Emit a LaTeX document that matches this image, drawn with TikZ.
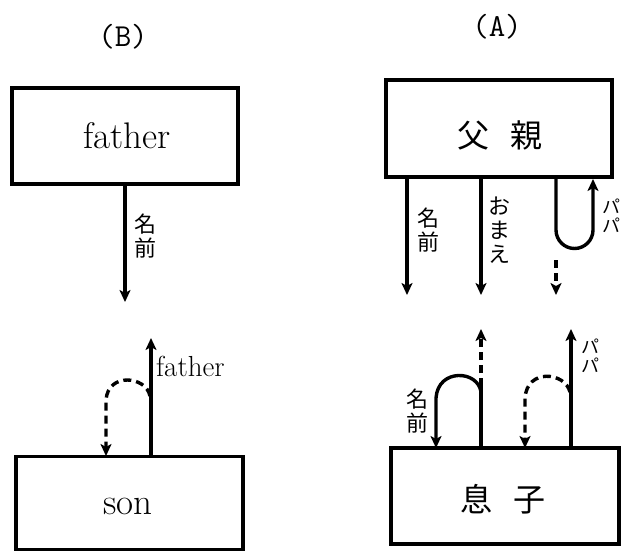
\documentclass[tikz,border=0pt]{standalone}
\usepackage{fontspec}
\newfontfamily\jp{Noto Sans CJK JP}
\usetikzlibrary{arrows.meta}
\tikzset{
  box/.style={draw, line width=3.2pt, minimum width=#1, minimum height=96pt, inner sep=0pt},
  lnk/.style={line width=3.4pt},
  arr/.style={lnk, -{Stealth[length=12pt,width=11pt,inset=3pt]}},
  dsh/.style={dash pattern=on 8pt off 5pt},
  jlab/.style={font=\jp\fontsize{22}{24}\selectfont, align=center, inner sep=0pt},
  plab/.style={font=\jp\fontsize{18}{19}\selectfont, align=center, inner sep=0pt},
  enlab/.style={font=\fontsize{37}{40}\selectfont, inner sep=0pt},
  panel/.style={font=\fontsize{32}{34}\selectfont\ttfamily, inner sep=0pt}
}
\begin{document}
\begin{tikzpicture}[x=1pt,y=1pt]
\useasboundingbox (0,0) rectangle (628,-552);
% ---------- (B) ----------
\node[panel] (labB) at (123,-37) {(B)};
\node[box=226pt] (fB) at (125,-136) {};
\node[enlab, anchor=base] (fBt) at (127,-148) {father};
\node[box=227pt, minimum height=93pt] (sB) at (129.5,-503) {};
\node[enlab, anchor=base] (sBt) at (128,-514) {son};
\coordinate (bA1) at (125,-184);
\coordinate (bA2) at (125,-302);
\draw[arr] (bA1) -- (bA2);
\node[jlab] (bn) at (145,-236) {名\\前};
\coordinate (bF1) at (151,-456);
\coordinate (bF2) at (151,-338);
\draw[arr] (bF1) -- (bF2);
\node[font=\fontsize{29}{30}\selectfont, anchor=base west, inner sep=0pt] (bfl) at (156,-376) {father};
\coordinate (bD1) at (150,-396);
\coordinate (bD2) at (106,-400);
\coordinate (bD3) at (106,-456);
\draw[arr, dsh] (bD1) .. controls (146,-376) and (108,-372) .. (bD2) -- (bD3);
% ---------- (A) ----------
\node[panel] (labA) at (497,-27) {(A)};
\node[box=226pt, minimum height=97pt] (fA) at (499,-128.5) {};
\node[font=\jp\fontsize{32}{34}\selectfont, inner sep=0pt] (fAt) at (500,-135) {父\hspace{22pt}親};
\node[box=228pt] (sA) at (505,-496) {};
\node[font=\jp\fontsize{32}{34}\selectfont, inner sep=0pt] (sAt) at (503,-499) {息\hspace{22pt}子};
% top arrows
\coordinate (a11) at (407,-177);
\coordinate (a12) at (407,-295);
\draw[arr] (a11) -- (a12);
\node[jlab] (an1) at (428,-230) {名\\前};
\coordinate (a21) at (481,-177);
\coordinate (a22) at (481,-295);
\draw[arr] (a21) -- (a22);
\node[jlab] (an2) at (499,-230) {お\\ま\\え};
\coordinate (a31) at (556,-177);
\coordinate (a32) at (556,-230);
\coordinate (a33) at (593,-179);
\draw[arr] (a31) -- (a32) arc[start angle=180, end angle=360, radius=18.5] -- (a33);
\coordinate (a34) at (556,-260);
\coordinate (a35) at (556,-295);
\draw[arr, dsh] (a34) -- (a35);
\node[plab] (ap1) at (611,-216) {パ\\パ};
% bottom arrows
\coordinate (b11) at (481,-448);
\coordinate (b12) at (481,-386);
\coordinate (b13) at (481,-329);
\draw[lnk] (b11) -- (b12);
\draw[arr, dsh] (b12) -- (b13);
\coordinate (b14) at (481,-392);
\coordinate (b15) at (436,-398);
\coordinate (b16) at (436,-448);
\draw[arr] (b14) .. controls (478,-370) and (438,-368) .. (b15) -- (b16);
\node[jlab] (bn2) at (417,-411) {名\\前};
\coordinate (b21) at (571,-448);
\coordinate (b22) at (571,-329);
\draw[arr] (b21) -- (b22);
\coordinate (b23) at (570,-392);
\coordinate (b24) at (525,-398);
\coordinate (b25) at (525,-448);
\draw[arr, dsh] (b23) .. controls (565,-372) and (527,-368) .. (b24) -- (b25);
\node[plab] (bp2) at (590,-356) {パ\\パ};
\end{tikzpicture}
\end{document}
